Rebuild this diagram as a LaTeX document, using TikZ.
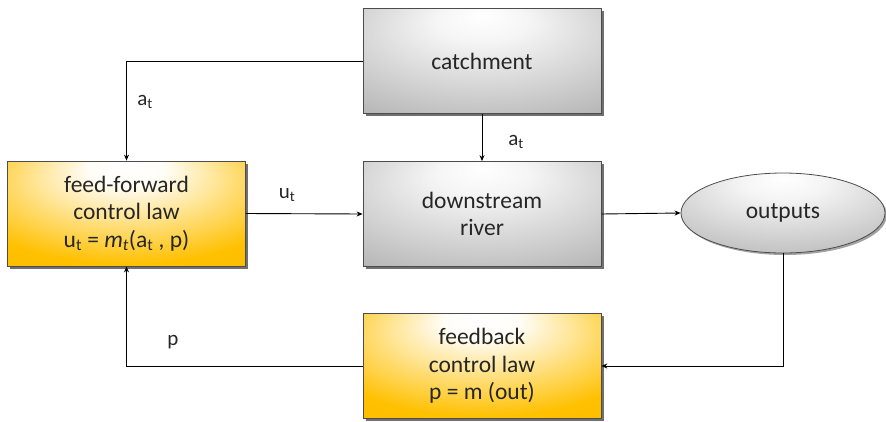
\documentclass[tikz,border=0pt]{standalone}
\usepackage{fontspec}
\setmainfont{Carlito}
\usetikzlibrary{shapes.geometric,shadows,arrows.meta}
\definecolor{goldedge}{HTML}{FFC000}
\definecolor{grayedge}{HTML}{A6A6A6}
\pgfdeclareradialshading{goldtop}{\pgfpoint{0bp}{24bp}}{color(0bp)=(white); color(8bp)=(white!97!goldedge); color(36bp)=(goldedge); color(70bp)=(goldedge!95!black)}
\pgfdeclareradialshading{graytop}{\pgfpoint{0bp}{22bp}}{color(0bp)=(white); color(10bp)=(white!96!black); color(50bp)=(grayedge); color(70bp)=(grayedge!95!black)}
\tikzset{
  boxbase/.style={draw=black!70, line width=0.8pt, minimum width=238pt, minimum height=105pt, inner sep=0pt, align=center,
    font=\fontsize{23.5}{27.5}\selectfont, text=black!85,
    drop shadow={shadow xshift=2.5pt, shadow yshift=-2.5pt, fill=black!70, opacity=0.8}},
  goldbox/.style={boxbase, shading=goldtop},
  graybox/.style={boxbase, shading=graytop},
  outell/.style={ellipse, draw=black!70, line width=0.8pt, minimum width=204pt, minimum height=80pt, inner sep=0pt,
    shading=graytop, font=\fontsize{23.5}{27.5}\selectfont, text=black!85,
    drop shadow={shadow xshift=2pt, shadow yshift=-2pt, fill=black!60, opacity=0.6}},
  conn/.style={line width=0.9pt, -{Stealth[length=6pt,width=5pt]}},
  lbl/.style={font=\fontsize{21}{24}\selectfont, text=black!85, inner sep=0pt}
}
\begin{document}
\begin{tikzpicture}[x=1pt,y=-1pt]
\useasboundingbox (0,0) rectangle (886,421);
\node[graybox] (catch) at (482,61) {catchment};
\node[graybox] (river) at (482,214) {downstream\\river};
\node[goldbox] (ff) at (126.5,213.5) {feed-forward\\control law\\u\textsubscript{t} = \textit{m}\textsubscript{\textit{t}}(a\textsubscript{t} , p)};
\node[outell] (out) at (783,213) {outputs};
\node[goldbox] (fb) at (482,366) {feedback\\control law\\p = m (out)};
\draw[conn] (catch.west) -| (ff.north);
\draw[conn] (catch.south) -- (river.north);
\draw[conn] (ff.east) -- (river.west);
\draw[conn] (river.east) -- (out.west);
\draw[conn] (out.south) |- (fb.east);
\draw[conn] (fb.west) -| (ff.south);
\node[lbl] (l1) at (145,102) {a\textsubscript{t}};
\node[lbl] (l2) at (516,142) {a\textsubscript{t}};
\node[lbl] (l3) at (287,195) {u\textsubscript{t}};
\node[lbl] (l4) at (173,342) {p};
\end{tikzpicture}
\end{document}
